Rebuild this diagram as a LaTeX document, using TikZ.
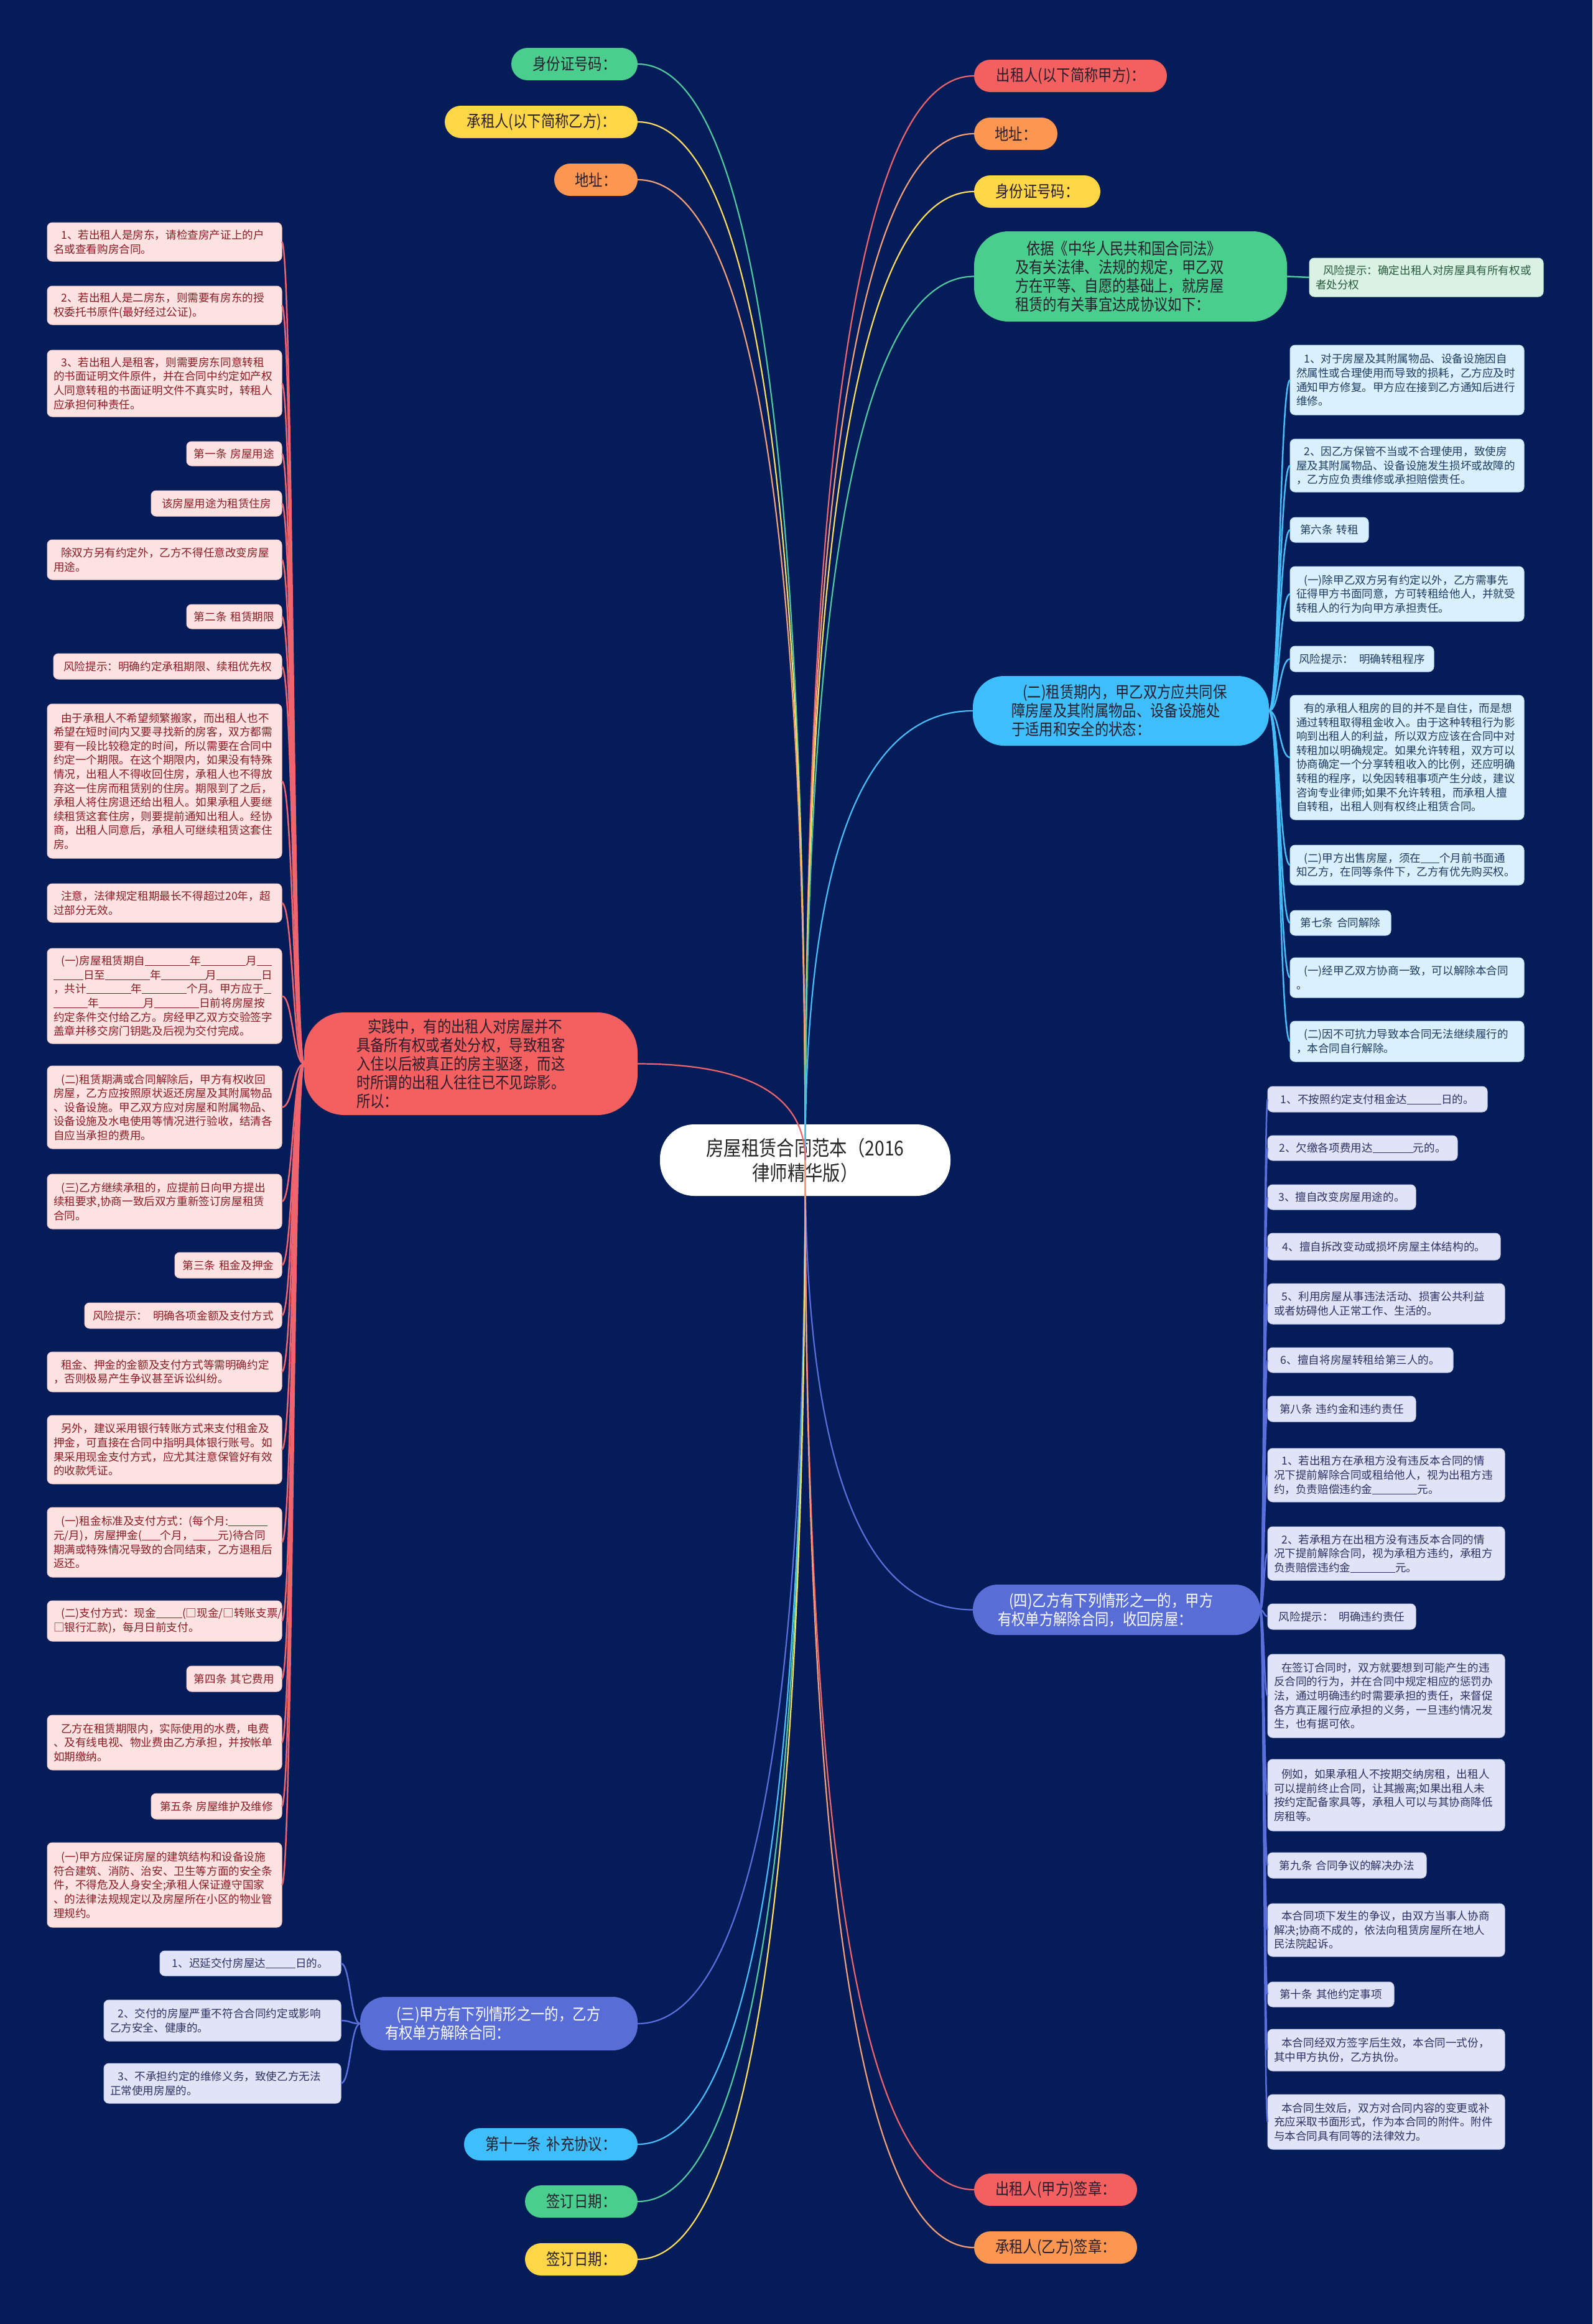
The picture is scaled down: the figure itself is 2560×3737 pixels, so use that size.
\documentclass[tikz,border=0pt]{standalone}
\usepackage{fontspec}
\newfontfamily\cjk{Noto Sans CJK SC}
\newfontfamily\cjkn[FakeStretch=0.86]{Noto Sans CJK SC}
\usetikzlibrary{calc}
\definecolor{bgc}{RGB}{4,28,88}
\definecolor{cR}{RGB}{244,96,96}
\definecolor{cO}{RGB}{253,150,80}
\definecolor{cY}{RGB}{255,214,70}
\definecolor{cG}{RGB}{74,206,142}
\definecolor{cS}{RGB}{62,190,250}
\definecolor{cV}{RGB}{88,110,214}
\definecolor{lR}{RGB}{240,100,110}
\definecolor{lO}{RGB}{245,160,120}
\definecolor{lY}{RGB}{255,222,95}
\definecolor{lG}{RGB}{80,200,160}
\definecolor{lS}{RGB}{70,190,250}
\definecolor{lV}{RGB}{90,110,220}
\definecolor{fR}{RGB}{253,226,226}
\definecolor{fB}{RGB}{218,240,252}
\definecolor{fV}{RGB}{225,228,247}
\definecolor{fG}{RGB}{218,242,228}
\definecolor{tR}{RGB}{140,28,36}
\definecolor{tB}{RGB}{30,60,100}
\definecolor{tV}{RGB}{45,50,100}
\definecolor{tG}{RGB}{40,90,60}
\definecolor{cDark}{RGB}{40,30,45}
\newcommand\brfont{\fontsize{26}{30}\selectfont\cjkn}
\newcommand\lffont{\fontsize{17.6}{22.6}\selectfont\cjk}
\newcommand\rtfont{\fontsize{33}{40}\selectfont\cjkn}
\newcommand\blk[1]{\rule[-1.5pt]{#1pt}{1pt}}
\newcommand\ind{\hspace*{0.7em}}
\newcommand\nbox[8]{%
\pgfmathsetmacro\bxw{#5-#3-2*#7}%
\pgfmathsetmacro\bxh{#6-#4}%
\pgfmathsetmacro\bxx{(#3+#5)/2}%
\pgfmathsetmacro\bxy{(#4+#6)/2}%
\node[#1, inner xsep=#7pt, minimum height=\bxh pt, text width=\bxw pt] (#2) at (\bxx,\bxy) {#8};}
\newcommand\rcon[2]{\draw[#1] (root.center) .. controls ($(root.center)!.667!(root.center |- #2)$) and ($(#2)!.667!(root.center |- #2)$) .. (#2);}
\newcommand\lcon[3]{\draw[#1] (#2) .. controls ($(#2)!.5!(#3 |- #2)$) and ($(#3)!.5!(#2 |- #3)$) .. (#3);}
\tikzset{
 base/.style={outer sep=0pt, inner ysep=2pt},
 pill/.style={base, rounded corners=26pt, font=\brfont, align=center, text=cDark},
 big/.style={base, rounded corners=55pt, font=\brfont, align=left, text=cDark},
 leaf/.style={base, rounded corners=8pt, font=\lffont, align=left, line width=1pt},
 lfR/.style={leaf, fill=fR, draw=fR!85!cR, text=tR},
 lfB/.style={leaf, fill=fB, draw=fB!85!cS, text=tB},
 lfV/.style={leaf, fill=fV, draw=fV!85!cV, text=tV},
 lfG/.style={leaf, fill=fG, draw=fG!85!cG, text=tG},
 one/.style={align=center},
 cn/.style={line width=2.2pt},
 cl/.style={line width=2.5pt},
}
\begin{document}
\begin{tikzpicture}[x=1pt,y=-1pt]
\fill[bgc] (0,0) rectangle (2560,3737);
\useasboundingbox (0,0) rectangle (2560,3737);
% root
\nbox{base, fill=white, rounded corners=55pt, font=\rtfont, align=center, text=black!85}{root}{1061}{1808}{1528}{1923}{20}{房屋租赁合同范本（2016\\律师精华版）}
% top pills
\nbox{pill, fill=cG}{lid}{822}{77}{1025}{129}{14}{身份证号码：}
\nbox{pill, fill=cY}{lcz}{715}{170}{1025}{222}{14}{承租人(以下简称乙方)：}
\nbox{pill, fill=cO}{ldz}{891}{263}{1025}{315}{14}{地址：}
\nbox{pill, fill=cR}{rcz}{1566}{96}{1876}{148}{14}{出租人(以下简称甲方)：}
\nbox{pill, fill=cO}{rdz}{1566}{189}{1700}{241}{14}{地址：}
\nbox{pill, fill=cY}{rid}{1566}{282}{1769}{334}{14}{身份证号码：}
\nbox{big, fill=cG}{ryj}{1566}{372}{2069}{517}{66}{\ind 依据《中华人民共和国合同法》\\及有关法律、法规的规定，甲乙双\\方在平等、自愿的基础上，就房屋\\租赁的有关事宜达成协议如下：}
\nbox{lfG}{g1}{2105}{415}{2481}{477}{10}{\ind 风险提示：确定出租人对房屋具有所有权或\\者处分权}
% (二)
\nbox{big, fill=cS, rounded corners=50pt}{r2}{1564}{1087}{2040}{1199}{62}{\ind(二)租赁期内，甲乙双方应共同保\\障房屋及其附属物品、设备设施处\\于适用和安全的状态：}
\nbox{lfB}{b1}{2074}{555}{2450}{667}{10}{\ind 1、对于房屋及其附属物品、设备设施因自\\然属性或合理使用而导致的损耗，乙方应及时\\通知甲方修复。甲方应在接到乙方通知后进行\\维修。}
\nbox{lfB}{b2}{2074}{706}{2450}{791}{10}{\ind 2、因乙方保管不当或不合理使用，致使房\\屋及其附属物品、设备设施发生损坏或故障的\\，乙方应负责维修或承担赔偿责任。}
\nbox{lfB,one}{b3}{2074}{832}{2200}{872}{10}{第六条 转租}
\nbox{lfB}{b4}{2074}{911}{2450}{999}{10}{\ind(一)除甲乙双方另有约定以外，乙方需事先\\征得甲方书面同意，方可转租给他人，并就受\\转租人的行为向甲方承担责任。}
\nbox{lfB,one}{b5}{2074}{1039}{2305}{1080}{10}{风险提示：\hspace{0.5em}明确转租程序}
\nbox{lfB}{b6}{2074}{1118}{2450}{1318}{10}{\ind 有的承租人租房的目的并不是自住，而是想\\通过转租取得租金收入。由于这种转租行为影\\响到出租人的利益，所以双方应该在合同中对\\转租加以明确规定。如果允许转租，双方可以\\协商确定一个分享转租收入的比例，还应明确\\转租的程序，以免因转租事项产生分歧，建议\\咨询专业律师;如果不允许转租，而承租人擅\\自转租，出租人则有权终止租赁合同。}
\nbox{lfB}{b7}{2074}{1359}{2450}{1423}{10}{\ind(二)甲方出售房屋，须在\blk{30}个月前书面通\\知乙方，在同等条件下，乙方有优先购买权。}
\nbox{lfB,one}{b8}{2074}{1464}{2236}{1504}{10}{第七条 合同解除}
\nbox{lfB}{b9}{2074}{1540}{2450}{1604}{10}{\ind(一)经甲乙双方协商一致，可以解除本合同\\。}
\nbox{lfB}{b10}{2074}{1642}{2450}{1707}{10}{\ind(二)因不可抗力导致本合同无法继续履行的\\，本合同自行解除。}
% red left branch
\nbox{big, fill=cR, rounded corners=65pt}{lred}{489}{1628}{1025}{1793}{84}{\ind 实践中，有的出租人对房屋并不\\具备所有权或者处分权，导致租客\\入住以后被真正的房主驱逐，而这\\时所谓的出租人往往已不见踪影。\\所以：}
\nbox{lfR}{L1}{76}{358}{453}{420}{10}{\ind 1、若出租人是房东，请检查房产证上的户\\名或查看购房合同。}
\nbox{lfR}{L2}{76}{460}{453}{522}{10}{\ind 2、若出租人是二房东，则需要有房东的授\\权委托书原件(最好经过公证)。}
\nbox{lfR}{L3}{76}{563}{453}{670}{10}{\ind 3、若出租人是租客，则需要房东同意转租\\的书面证明文件原件，并在合同中约定如产权\\人同意转租的书面证明文件不真实时，转租人\\应承担何种责任。}
\nbox{lfR,one}{L4}{300}{710}{453}{749}{10}{第一条 房屋用途}
\nbox{lfR,one}{L5}{243}{789}{453}{830}{10}{该房屋用途为租赁住房}
\nbox{lfR}{L6}{76}{868}{453}{932}{10}{\ind 除双方另有约定外，乙方不得任意改变房屋\\用途。}
\nbox{lfR,one}{L7}{300}{972}{453}{1011}{10}{第二条 租赁期限}
\nbox{lfR,one}{L8}{86}{1051}{453}{1092}{10}{风险提示：明确约定承租期限、续租优先权}
\nbox{lfR}{L9}{76}{1132}{453}{1380}{10}{\ind 由于承租人不希望频繁搬家，而出租人也不\\希望在短时间内又要寻找新的房客，双方都需\\要有一段比较稳定的时间，所以需要在合同中\\约定一个期限。在这个期限内，如果没有特殊\\情况，出租人不得收回住房，承租人也不得放\\弃这一住房而租赁别的住房。期限到了之后，\\承租人将住房退还给出租人。如果承租人要继\\续租赁这套住房，则要提前通知出租人。经协\\商，出租人同意后，承租人可继续租赁这套住\\房。}
\nbox{lfR}{L10}{76}{1421}{453}{1483}{10}{\ind 注意，法律规定租期最长不得超过20年，超\\过部分无效。}
\nbox{lfR}{L11}{76}{1525}{453}{1678}{10}{\ind(一)房屋租赁期自\blk{72}年\blk{72}月\blk{24}\\\blk{48}日至\blk{72}年\blk{72}月\blk{72}日\\，共计\blk{72}年\blk{72}个月。甲方应于\blk{12}\\\blk{55}年\blk{72}月\blk{72}日前将房屋按\\约定条件交付给乙方。房经甲乙双方交验签字\\盖章并移交房门钥匙及后视为交付完成。}
\nbox{lfR}{L12}{76}{1714}{453}{1847}{10}{\ind(二)租赁期满或合同解除后，甲方有权收回\\房屋，乙方应按照原状返还房屋及其附属物品\\、设备设施。甲乙双方应对房屋和附属物品、\\设备设施及水电使用等情况进行验收，结清各\\自应当承担的费用。}
\nbox{lfR}{L13}{76}{1888}{453}{1976}{10}{\ind(三)乙方继续承租的，应提前日向甲方提出\\续租要求,协商一致后双方重新签订房屋租赁\\合同。}
\nbox{lfR,one}{L14}{281}{2014}{453}{2055}{10}{第三条 租金及押金}
\nbox{lfR,one}{L15}{136}{2095}{453}{2136}{10}{风险提示：\hspace{0.5em}明确各项金额及支付方式}
\nbox{lfR}{L16}{76}{2174}{453}{2238}{10}{\ind 租金、押金的金额及支付方式等需明确约定\\，否则极易产生争议甚至诉讼纠纷。}
\nbox{lfR}{L17}{76}{2276}{453}{2386}{10}{\ind 另外，建议采用银行转账方式来支付租金及\\押金，可直接在合同中指明具体银行账号。如\\果采用现金支付方式，应尤其注意保管好有效\\的收款凭证。}
\nbox{lfR}{L18}{76}{2424}{453}{2536}{10}{\ind(一)租金标准及支付方式：(每个月:\blk{63}\\元/月)，房屋押金(\blk{30}个月，\blk{40}元)待合同\\期满或特殊情况导致的合同结束，乙方退租后\\返还。}
\nbox{lfR}{L19}{76}{2574}{453}{2639}{10}{\ind(二)支付方式：现金\blk{42}(□现金/□转账支票/\\□银行汇款)，每月日前支付。}
\nbox{lfR,one}{L20}{300}{2679}{453}{2720}{10}{第四条 其它费用}
\nbox{lfR}{L21}{76}{2758}{453}{2846}{10}{\ind 乙方在租赁期限内，实际使用的水费，电费\\、及有线电视、物业费由乙方承担，并按帐单\\如期缴纳。}
\nbox{lfR,one}{L22}{243}{2884}{453}{2925}{10}{第五条 房屋维护及维修}
\nbox{lfR}{L23}{76}{2963}{453}{3099}{10}{\ind(一)甲方应保证房屋的建筑结构和设备设施\\符合建筑、消防、治安、卫生等方面的安全条\\件，不得危及人身安全;承租人保证遵守国家\\、的法律法规规定以及房屋所在小区的物业管\\理规约。}
% (四)
\nbox{big, fill=cV, text=white, rounded corners=40pt}{r4}{1564}{2548}{2026}{2629}{40}{\ind(四)乙方有下列情形之一的，甲方\\有权单方解除合同，收回房屋：}
\nbox{lfV,one}{F1}{2038}{1747}{2391}{1788}{10}{1、不按照约定支付租金达\blk{55}日的。}
\nbox{lfV,one}{F2}{2038}{1826}{2343}{1866}{10}{2、欠缴各项费用达\blk{65}元的。}
\nbox{lfV,one}{F3}{2038}{1905}{2276}{1945}{10}{3、擅自改变房屋用途的。}
\nbox{lfV,one}{F4}{2038}{1983}{2412}{2026}{10}{4、擅自拆改变动或损坏房屋主体结构的。}
\nbox{lfV}{F5}{2038}{2064}{2419}{2129}{10}{\ind 5、利用房屋从事违法活动、损害公共利益\\或者妨碍他人正常工作、生活的。}
\nbox{lfV,one}{F6}{2038}{2167}{2336}{2207}{10}{6、擅自将房屋转租给第三人的。}
\nbox{lfV,one}{F7}{2038}{2245}{2276}{2286}{10}{第八条 违约金和违约责任}
\nbox{lfV}{F8}{2038}{2329}{2419}{2415}{10}{\ind 1、若出租方在承租方没有违反本合同的情\\况下提前解除合同或租给他人，视为出租方违\\约，负责赔偿违约金\blk{72}元。}
\nbox{lfV}{F9}{2038}{2455}{2419}{2541}{10}{\ind 2、若承租方在出租方没有违反本合同的情\\况下提前解除合同，视为承租方违约，承租方\\负责赔偿违约金\blk{72}元。}
\nbox{lfV,one}{F10}{2038}{2579}{2276}{2620}{10}{风险提示：\hspace{0.5em}明确违约责任}
\nbox{lfV}{F11}{2038}{2660}{2419}{2794}{10}{\ind 在签订合同时，双方就要想到可能产生的违\\反合同的行为，并在合同中规定相应的惩罚办\\法，通过明确违约时需要承担的责任，来督促\\各方真正履行应承担的义务，一旦违约情况发\\生，也有据可依。}
\nbox{lfV}{F12}{2038}{2829}{2419}{2944}{10}{\ind 例如，如果承租人不按期交纳房租，出租人\\可以提前终止合同，让其搬离;如果出租人未\\按约定配备家具等，承租人可以与其协商降低\\房租等。}
\nbox{lfV,one}{F13}{2038}{2979}{2293}{3020}{10}{第九条 合同争议的解决办法}
\nbox{lfV}{F14}{2038}{3061}{2419}{3146}{10}{\ind 本合同项下发生的争议，由双方当事人协商\\解决;协商不成的，依法向租赁房屋所在地人\\民法院起诉。}
\nbox{lfV,one}{F15}{2038}{3187}{2241}{3227}{10}{第十条 其他约定事项}
\nbox{lfV}{F16}{2038}{3263}{2419}{3330}{10}{\ind 本合同经双方签字后生效，本合同一式份，\\其中甲方执份，乙方执份。}
\nbox{lfV}{F17}{2038}{3368}{2419}{3456}{10}{\ind 本合同生效后，双方对合同内容的变更或补\\充应采取书面形式，作为本合同的附件。附件\\与本合同具有同等的法律效力。}
% (三)
\nbox{big, fill=cV, text=white, rounded corners=40pt}{l3}{579}{3211}{1025}{3297}{40}{\ind(三)甲方有下列情形之一的，乙方\\有权单方解除合同：}
\nbox{lfV,one}{T1}{257}{3137}{548}{3177}{10}{1、迟延交付房屋达\blk{48}日的。}
\nbox{lfV}{T2}{167}{3216}{548}{3282}{10}{\ind 2、交付的房屋严重不符合合同约定或影响\\乙方安全、健康的。}
\nbox{lfV}{T3}{167}{3318}{548}{3382}{10}{\ind 3、不承担约定的维修义务，致使乙方无法\\正常使用房屋的。}
% bottom pills
\nbox{pill, fill=cS}{l11}{746}{3422}{1025}{3474}{14}{第十一条 补充协议：}
\nbox{pill, fill=cG}{lqd1}{844}{3514}{1025}{3566}{14}{签订日期：}
\nbox{pill, fill=cY}{lqd2}{844}{3607}{1025}{3659}{14}{签订日期：}
\nbox{pill, fill=cR}{rsz1}{1566}{3495}{1828}{3547}{14}{出租人(甲方)签章：}
\nbox{pill, fill=cO}{rsz2}{1566}{3588}{1828}{3640}{14}{承租人(乙方)签章：}
% root connectors
\rcon{cn,lG}{lid.east}
\rcon{cn,lY}{lcz.east}
\rcon{cn,lO}{ldz.east}
\rcon{cn,lR}{rcz.west}
\rcon{cn,lO}{rdz.west}
\rcon{cn,lY}{rid.west}
\rcon{cn,lG}{ryj.west}
\rcon{cn,lS}{r2.west}
\rcon{cn,lR}{lred.east}
\rcon{cn,lV}{r4.west}
\rcon{cn,lV}{l3.east}
\rcon{cn,lS}{l11.east}
\rcon{cn,lG}{lqd1.east}
\rcon{cn,lY}{lqd2.east}
\rcon{cn,lR}{rsz1.west}
\rcon{cn,lO}{rsz2.west}
% leaf connectors
\lcon{cl,lG}{ryj.east}{g1.west}
\foreach \n in {b1,b2,b3,b4,b5,b6,b7,b8,b9,b10}{\lcon{cl,lS}{r2.east}{\n.west}}
\foreach \n in {L1,L2,L3,L4,L5,L6,L7,L8,L9,L10,L11,L12,L13,L14,L15,L16,L17,L18,L19,L20,L21,L22,L23}{\lcon{cl,lR}{lred.west}{\n.east}}
\foreach \n in {F1,F2,F3,F4,F5,F6,F7,F8,F9,F10,F11,F12,F13,F14,F15,F16,F17}{\lcon{cl,lV}{r4.east}{\n.west}}
\foreach \n in {T1,T2,T3}{\lcon{cl,lV}{l3.west}{\n.east}}
\end{tikzpicture}
\end{document}
